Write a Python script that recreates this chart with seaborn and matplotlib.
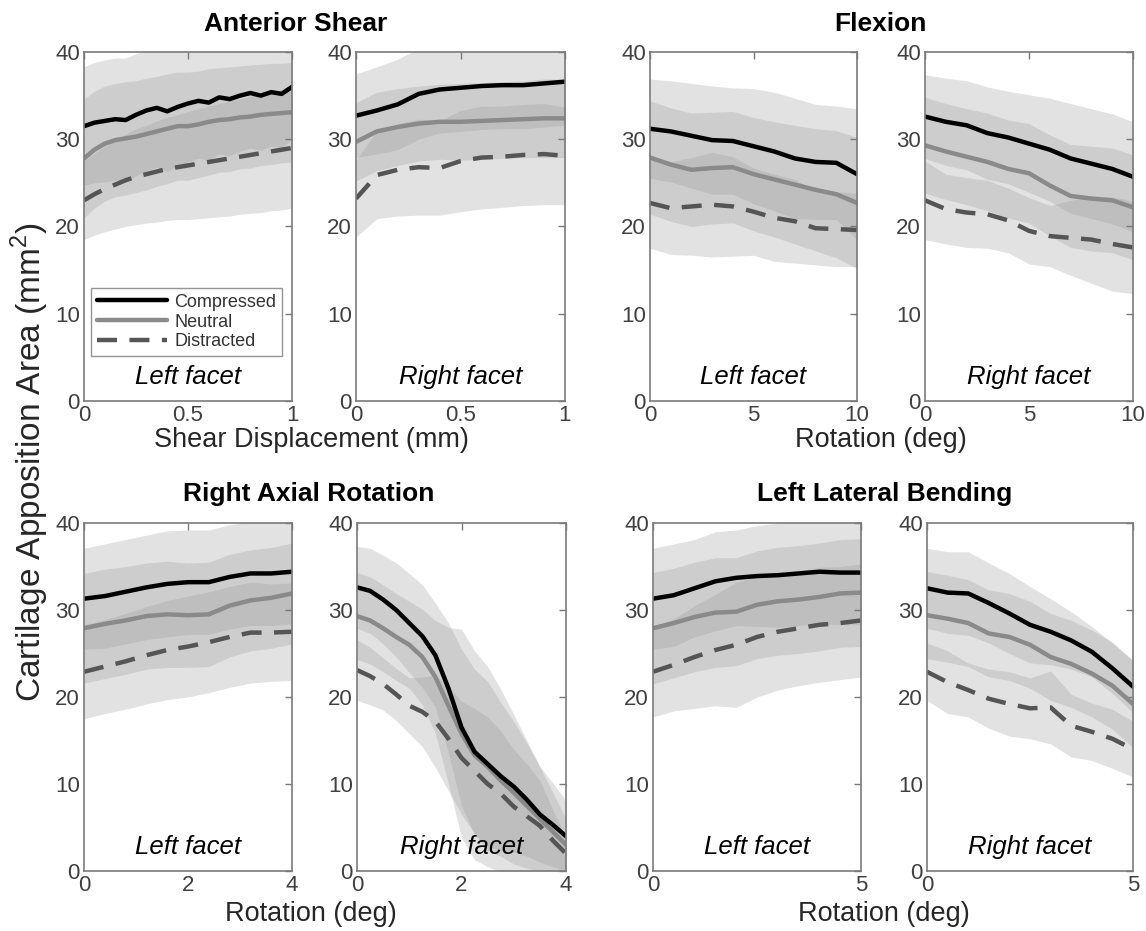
import numpy as np
import pandas as pd
import matplotlib
matplotlib.use("Agg")
import matplotlib.pyplot as plt
import seaborn as sns
from matplotlib.lines import Line2D

CONDITIONS = ["Compressed", "Neutral", "Distracted"]

# ---------------- Anterior Shear ----------------
AS_L_X = [0, .05, .1, .15, .2, .25, .3, .35, .4, .45, .5, .55, .6, .65, .7, .75, .8, .85, .9, .95, 1]
AS_L_COMP = [31.5, 31.9, 32.1, 32.3, 32.2, 32.8, 33.3, 33.6, 33.2, 33.7, 34.1, 34.4, 34.2, 34.8, 34.6, 35.0, 35.3, 35.0, 35.4, 35.2, 36.0]
AS_L_NEUT = [27.8, 28.8, 29.5, 29.9, 30.1, 30.3, 30.6, 30.9, 31.2, 31.5, 31.5, 31.7, 32.0, 32.2, 32.3, 32.5, 32.6, 32.8, 32.9, 33.0, 33.1]
AS_L_DIST = [23.0, 23.7, 24.3, 24.8, 25.3, 25.7, 26.0, 26.3, 26.6, 26.8, 27.0, 27.2, 27.4, 27.6, 27.8, 28.0, 28.2, 28.4, 28.6, 28.8, 29.0]
AS_L_COMP_SD = [6.8, 6.9, 7.0, 7.0, 7.1, 7.0, 6.9, 6.8, 6.9, 6.8, 6.7, 6.6, 6.6, 6.5, 6.5, 6.4, 6.3, 6.3, 6.2, 6.2, 6.0]
AS_L_NEUT_SD = [6.8, 6.7, 6.6, 6.5, 6.5, 6.4, 6.4, 6.3, 6.3, 6.2, 6.2, 6.1, 6.1, 6.0, 6.0, 5.9, 5.9, 5.8, 5.8, 5.7, 5.7]
AS_L_DIST_SD = [4.5, 4.7, 4.9, 5.1, 5.3, 5.5, 5.6, 5.8, 5.9, 6.0, 6.2, 6.3, 6.4, 6.5, 6.6, 6.6, 6.7, 6.8, 6.8, 6.9, 6.9]

AS_R_X = [0, .1, .2, .3, .4, .5, .6, .7, .8, .9, 1]
AS_R_COMP = [32.7, 33.3, 34.0, 35.2, 35.7, 35.9, 36.1, 36.2, 36.2, 36.4, 36.6]
AS_R_NEUT = [29.7, 30.9, 31.4, 31.8, 32.0, 32.0, 32.1, 32.2, 32.3, 32.4, 32.4]
AS_R_DIST = [23.2, 25.9, 26.5, 26.8, 26.7, 27.5, 27.9, 28.0, 28.2, 28.3, 28.1]
AS_R_COMP_SD = [4.8, 5.0, 5.2, 5.2, 5.0, 5.0, 5.0, 5.0, 5.0, 5.0, 5.0]
AS_R_NEUT_SD = [4.5, 4.5, 4.4, 4.3, 4.3, 4.4, 4.4, 4.4, 4.4, 4.5, 4.5]
AS_R_DIST_SD = [4.4, 5.0, 5.3, 5.5, 5.4, 5.8, 5.9, 5.8, 5.8, 5.8, 5.6]

# ---------------- Flexion ----------------
FX_X = [0, 1, 2, 3, 4, 5, 6, 7, 8, 9, 10]
FX_L_COMP = [31.2, 30.9, 30.4, 29.9, 29.8, 29.2, 28.6, 27.8, 27.4, 27.3, 26.0]
FX_L_NEUT = [27.9, 27.1, 26.5, 26.7, 26.8, 26.0, 25.4, 24.8, 24.2, 23.7, 22.7]
FX_L_DIST = [22.7, 22.1, 22.3, 22.5, 22.3, 21.7, 21.0, 20.6, 19.8, 19.7, 19.6]
FX_L_COMP_SD = [5.7, 5.8, 6.0, 6.2, 6.1, 6.6, 6.8, 6.9, 6.6, 6.5, 7.5]
FX_L_NEUT_SD = [6.5, 6.5, 6.5, 6.4, 6.4, 6.5, 6.6, 6.8, 7.0, 7.3, 7.5]
FX_L_DIST_SD = [5.2, 5.3, 5.6, 6.0, 5.7, 5.0, 5.0, 4.8, 4.2, 4.3, 4.2]

FX_R_COMP = [32.6, 32.0, 31.6, 30.7, 30.2, 29.5, 28.8, 27.8, 27.2, 26.6, 25.7]
FX_R_NEUT = [29.3, 28.6, 28.0, 27.4, 26.6, 26.1, 24.7, 23.5, 23.2, 23.0, 22.2]
FX_R_DIST = [23.0, 22.0, 21.6, 21.4, 20.7, 19.5, 18.9, 18.7, 18.5, 18.0, 17.6]
FX_R_COMP_SD = [4.8, 5.0, 5.1, 5.3, 5.3, 5.6, 5.9, 6.3, 6.3, 6.3, 6.3]
FX_R_NEUT_SD = [5.5, 5.5, 5.5, 5.6, 5.6, 5.7, 5.8, 5.9, 6.0, 6.0, 6.0]
FX_R_DIST_SD = [4.5, 4.0, 4.0, 3.9, 3.7, 3.8, 3.5, 4.3, 5.0, 5.4, 5.3]

# ---------------- Right Axial Rotation ----------------
AR_L_X = [0, 0.4, 0.8, 1.2, 1.6, 2.0, 2.4, 2.8, 3.2, 3.6, 4.0]
AR_L_COMP = [31.3, 31.6, 32.1, 32.6, 33.0, 33.2, 33.2, 33.8, 34.2, 34.2, 34.4]
AR_L_NEUT = [27.9, 28.4, 28.8, 29.3, 29.5, 29.4, 29.5, 30.5, 31.1, 31.4, 31.9]
AR_L_DIST = [22.9, 23.5, 24.1, 24.8, 25.4, 25.8, 26.3, 26.9, 27.4, 27.4, 27.5]
AR_L_COMP_SD = [5.8, 6.0, 6.0, 6.0, 6.1, 6.0, 6.0, 6.0, 6.0, 6.0, 6.0]
AR_L_NEUT_SD = [6.3, 6.3, 6.2, 6.1, 6.1, 6.0, 6.0, 5.9, 5.8, 5.8, 5.8]
AR_L_DIST_SD = [5.4, 5.4, 5.5, 5.6, 5.7, 5.8, 5.8, 5.8, 5.8, 5.6, 5.6]

AR_R_X = [0, .25, .5, .75, 1.0, 1.25, 1.5, 1.75, 2.0, 2.25, 2.5, 2.75, 3.0, 3.25, 3.5, 3.75, 4.0]
AR_R_COMP = [32.6, 32.2, 31.2, 30.0, 28.5, 27.0, 24.8, 21.0, 16.5, 13.7, 12.3, 10.9, 9.7, 8.2, 6.5, 5.3, 4.0]
AR_R_NEUT = [29.3, 28.8, 27.9, 26.9, 26.0, 24.6, 22.3, 19.0, 15.8, 13.3, 12.0, 10.4, 9.0, 7.5, 6.0, 4.5, 3.0]
AR_R_DIST = [23.1, 22.4, 21.5, 20.3, 19.0, 18.3, 17.2, 15.2, 13.0, 11.5, 10.0, 8.9, 7.4, 6.3, 5.2, 3.5, 2.0]
AR_R_COMP_SD = [4.7, 4.9, 5.1, 5.4, 5.7, 5.9, 6.0, 7.5, 9.0, 9.5, 9.5, 8.5, 7.5, 6.5, 5.5, 4.8, 4.1]
AR_R_NEUT_SD = [5.0, 5.0, 5.0, 5.0, 5.0, 5.5, 6.5, 9.0, 12.0, 12.0, 11.5, 10.5, 9.0, 7.5, 6.0, 4.5, 3.0]
AR_R_DIST_SD = [3.5, 3.3, 3.0, 3.0, 3.2, 4.0, 5.3, 6.0, 6.5, 7.2, 7.7, 7.2, 6.6, 6.0, 5.2, 3.5, 2.0]

# ---------------- Left Lateral Bending ----------------
LB_X = [0, .5, 1, 1.5, 2, 2.5, 3, 3.5, 4, 4.5, 5]
LB_L_COMP = [31.3, 31.7, 32.5, 33.3, 33.7, 33.9, 34.0, 34.2, 34.4, 34.3, 34.3]
LB_L_NEUT = [27.9, 28.5, 29.2, 29.7, 29.8, 30.6, 31.0, 31.2, 31.5, 31.9, 32.0]
LB_L_DIST = [22.9, 23.7, 24.6, 25.4, 26.0, 26.9, 27.5, 27.9, 28.3, 28.5, 28.8]
LB_L_COMP_SD = [5.8, 5.9, 5.6, 5.7, 5.5, 5.8, 6.0, 6.0, 6.0, 6.0, 6.0]
LB_L_NEUT_SD = [6.4, 6.3, 6.3, 6.3, 6.2, 6.2, 6.2, 6.2, 6.2, 6.2, 6.2]
LB_L_DIST_SD = [5.2, 5.3, 5.9, 6.4, 7.2, 6.9, 6.7, 6.6, 6.6, 6.5, 6.5]

LB_R_COMP = [32.5, 32.0, 31.9, 30.8, 29.6, 28.3, 27.5, 26.5, 25.2, 23.3, 21.2]
LB_R_NEUT = [29.4, 29.0, 28.5, 27.3, 26.9, 26.0, 24.6, 23.8, 22.7, 21.3, 19.2]
LB_R_DIST = [22.9, 21.7, 20.8, 19.8, 19.2, 18.7, 18.8, 16.7, 16.0, 15.2, 14.0]
LB_R_COMP_SD = [4.6, 4.7, 4.8, 4.6, 4.6, 4.4, 3.8, 3.3, 2.9, 2.9, 3.0]
LB_R_NEUT_SD = [5.0, 5.0, 5.0, 5.0, 5.0, 5.0, 5.0, 5.0, 5.0, 5.0, 5.0]
LB_R_DIST_SD = [3.3, 3.6, 3.1, 3.4, 3.7, 3.5, 4.2, 3.6, 3.3, 3.4, 3.2]

PANEL_TITLES = ["Anterior Shear", "Flexion", "Right Axial Rotation", "Left Lateral Bending"]
X_LABELS = ["Shear Displacement (mm)", "Rotation (deg)", "Rotation (deg)", "Rotation (deg)"]
FACET_LABELS = ["Left facet", "Right facet"]
Y_LABEL = "Cartilage Apposition Area (mm$^2$)"
Y_TICKS = [0, 10, 20, 30, 40]

# ---------------- styling ----------------
sns.set_theme(style="white")
plt.rcParams["font.family"] = ["Liberation Sans", "DejaVu Sans"]
plt.rcParams["mathtext.fontset"] = "custom"
plt.rcParams["mathtext.rm"] = "Liberation Sans"

LW = 3.2
PALETTE = {"Compressed": "#000000", "Neutral": "#8a8a8a", "Distracted": "#555555"}
DASHES = {"Compressed": "", "Neutral": "", "Distracted": (4.5, 2.8)}
HUE_ORDER = ["Distracted", "Neutral", "Compressed"]
BAND_COLOR = "#9a9a9a"
BAND_ALPHA = 0.28
AX_EDGE = "#7a7a7a"
TICK_COLOR = "#404040"

W, H = 1146, 931
fig = plt.figure(figsize=(W / 100, H / 100), dpi=100)

def px_axes(left, top, right, bottom):
    return fig.add_axes([left / W, 1 - bottom / H, (right - left) / W, (bottom - top) / H])

panels = [
    (px_axes(84, 52, 292, 401), AS_L_X, (AS_L_COMP, AS_L_NEUT, AS_L_DIST), (AS_L_COMP_SD, AS_L_NEUT_SD, AS_L_DIST_SD), [0, 0.5, 1], ["0", "0.5", "1"], FACET_LABELS[0]),
    (px_axes(356, 52, 565, 401), AS_R_X, (AS_R_COMP, AS_R_NEUT, AS_R_DIST), (AS_R_COMP_SD, AS_R_NEUT_SD, AS_R_DIST_SD), [0, 0.5, 1], ["0", "0.5", "1"], FACET_LABELS[1]),
    (px_axes(650, 52, 857, 401), FX_X, (FX_L_COMP, FX_L_NEUT, FX_L_DIST), (FX_L_COMP_SD, FX_L_NEUT_SD, FX_L_DIST_SD), [0, 5, 10], ["0", "5", "10"], FACET_LABELS[0]),
    (px_axes(925, 52, 1133, 401), FX_X, (FX_R_COMP, FX_R_NEUT, FX_R_DIST), (FX_R_COMP_SD, FX_R_NEUT_SD, FX_R_DIST_SD), [0, 5, 10], ["0", "5", "10"], FACET_LABELS[1]),
    (px_axes(84, 523, 292, 871), AR_L_X, (AR_L_COMP, AR_L_NEUT, AR_L_DIST), (AR_L_COMP_SD, AR_L_NEUT_SD, AR_L_DIST_SD), [0, 2, 4], ["0", "2", "4"], FACET_LABELS[0]),
    (px_axes(357, 523, 566, 871), AR_R_X, (AR_R_COMP, AR_R_NEUT, AR_R_DIST), (AR_R_COMP_SD, AR_R_NEUT_SD, AR_R_DIST_SD), [0, 2, 4], ["0", "2", "4"], FACET_LABELS[1]),
    (px_axes(653, 523, 861, 871), LB_X, (LB_L_COMP, LB_L_NEUT, LB_L_DIST), (LB_L_COMP_SD, LB_L_NEUT_SD, LB_L_DIST_SD), [0, 5], ["0", "5"], FACET_LABELS[0]),
    (px_axes(927, 523, 1133, 871), LB_X, (LB_R_COMP, LB_R_NEUT, LB_R_DIST), (LB_R_COMP_SD, LB_R_NEUT_SD, LB_R_DIST_SD), [0, 5], ["0", "5"], FACET_LABELS[1]),
]

for ax, xs, means, sds, xticks, xticklabels, facet in panels:
    xs = np.asarray(xs, dtype=float)
    frames = []
    for cond, m, s in zip(CONDITIONS, means, sds):
        m = np.asarray(m, dtype=float)
        s = np.asarray(s, dtype=float)
        ax.fill_between(xs, m - s, m + s, color=BAND_COLOR, alpha=BAND_ALPHA, lw=0, zorder=0.5)
        frames.append(pd.DataFrame({"x": xs, "y": m, "cond": cond}))
    df = pd.concat(frames, ignore_index=True)
    sns.lineplot(data=df, x="x", y="y", hue="cond", style="cond", hue_order=HUE_ORDER,
                 style_order=HUE_ORDER, palette=PALETTE, dashes=DASHES, linewidth=LW,
                 estimator=None, sort=False, legend=False, ax=ax)
    ax.set_xlim(xs[0], xs[-1])
    ax.set_ylim(0, 40)
    ax.set_xticks(xticks)
    ax.set_xticklabels(xticklabels)
    ax.set_yticks(Y_TICKS)
    ax.set_xlabel("")
    ax.set_ylabel("")
    ax.tick_params(direction="in", top=True, right=True, length=5, width=1,
                   color=AX_EDGE, labelcolor=TICK_COLOR, labelsize=16, pad=3)
    for sp in ax.spines.values():
        sp.set_visible(True)
        sp.set_color(AX_EDGE)
        sp.set_linewidth(1.2)
    ax.text(0.5, 0.07, facet, transform=ax.transAxes, ha="center", va="center",
            fontsize=18.5, style="italic", color="black")

# legend in first panel
handles = [Line2D([], [], color=PALETTE[c], lw=LW) for c in CONDITIONS]
handles[2].set_dashes(DASHES["Distracted"])
leg = panels[0][0].legend(handles, CONDITIONS, loc="lower left", bbox_to_anchor=(0.035, 0.13),
                          borderaxespad=0, frameon=True, fancybox=False, fontsize=13,
                          handlelength=3.9, labelspacing=0.15, borderpad=0.3, handletextpad=0.4)
leg.get_frame().set_edgecolor(AX_EDGE)
leg.get_frame().set_linewidth(1.0)
for t in leg.get_texts():
    t.set_color("#333333")

def ftext(x, y, s, **kw):
    fig.text(x / W, 1 - y / H, s, ha="center", va="center", **kw)

ftext(296, 24, PANEL_TITLES[0], fontsize=19, fontweight="bold", color="black")
ftext(880, 24, PANEL_TITLES[1], fontsize=19, fontweight="bold", color="black")
ftext(309, 494, PANEL_TITLES[2], fontsize=19, fontweight="bold", color="black")
ftext(885, 494, PANEL_TITLES[3], fontsize=19, fontweight="bold", color="black")

ftext(311, 440, X_LABELS[0], fontsize=19.5, color="#262626")
ftext(881, 440, X_LABELS[1], fontsize=19.5, color="#262626")
ftext(311, 914, X_LABELS[2], fontsize=19.5, color="#262626")
ftext(884, 914, X_LABELS[3], fontsize=19.5, color="#262626")

fig.text(30 / W, 1 - 462 / H, Y_LABEL, rotation=90, ha="center", va="center",
         fontsize=24, color="#262626")

fig.savefig("out.png", dpi=100)
